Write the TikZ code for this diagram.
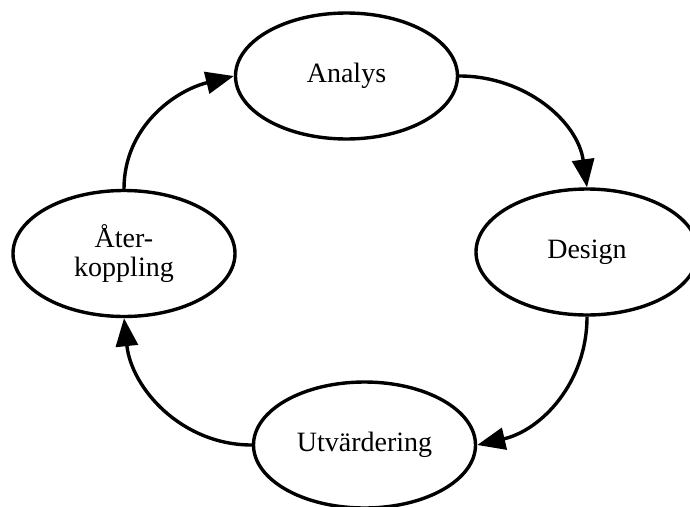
\documentclass[tikz,border=0pt]{standalone}
\usepackage{fontspec}
\setmainfont{Liberation Serif}
\usetikzlibrary{arrows.meta,shapes.geometric}

\begin{document}
\begin{tikzpicture}[x=1pt,y=-1pt,
  phase/.style={draw,ellipse,line width=3.4pt,minimum width=222pt,
    minimum height=126pt,inner sep=0pt,align=center,
    font=\fontsize{28}{29}\selectfont},
  flow/.style={line width=3.4pt,-{Triangle[length=28pt,width=22pt]}}]

  \useasboundingbox (0,0) rectangle (690,506);

  \node[phase] (analys) at (346.5,76) {Analys};
  \node[phase] (design) at (587,252) {Design};
  \node[phase] (utv) at (364.5,445) {Utvärdering};
  \node[phase] (ater) at (124,253.5) {Åter-\\koppling};

  \draw[flow] (analys.east) to[out=0,in=98] (design.north);
  \draw[flow] (design.south) to[out=-90,in=13] (utv.east);
  \draw[flow] (utv.west) to[out=180,in=-84] (ater.south);
  \draw[flow] (ater.north) to[out=90,in=194] (analys.west);

\end{tikzpicture}
\end{document}
